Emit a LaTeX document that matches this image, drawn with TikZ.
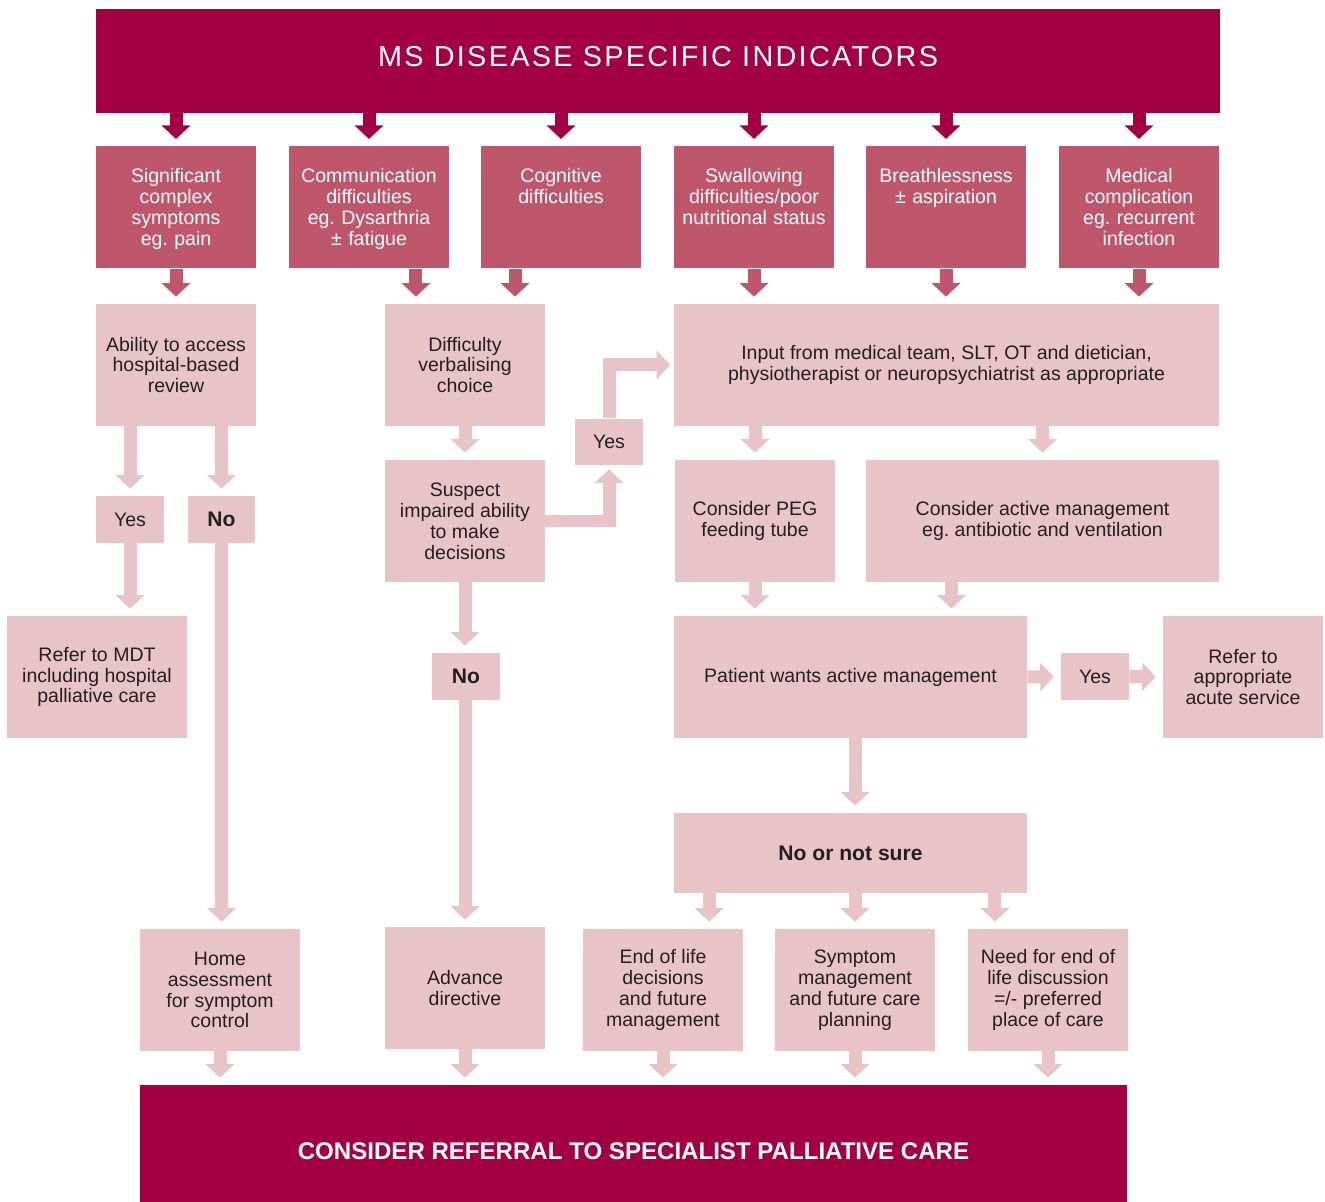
\documentclass[tikz,border=0pt]{standalone}
\usepackage{fontspec}
\setmainfont{Liberation Sans}
\newfontfamily\titlefont[LetterSpace=8]{Liberation Sans}
\frenchspacing
\usetikzlibrary{arrows.meta}
\definecolor{msdark}{RGB}{163,0,68}
\definecolor{msmid}{RGB}{190,86,108}
\definecolor{mslight}{RGB}{232,196,200}
\definecolor{mstext}{RGB}{35,31,32}
\tikzset{
	box/.style={inner sep=0pt, align=center, font=\fontsize{11.1}{11.9}\selectfont},
	darkbox/.style={box, fill=msdark, text=white, anchor=base},
	midbox/.style={box, fill=msmid, text=white, anchor=north,
		minimum width=3.2cm, minimum height=2.44cm,
		text width=3.2cm, text height=0.72cm, text depth=1.72cm},
	lightbox/.style={box, fill=mslight, text=mstext},
	stdbox/.style={lightbox, minimum width=3.2cm, minimum height=2.44cm},
	widebox/.style={lightbox, minimum width=7.06cm, minimum height=2.44cm},
	tagbox/.style={lightbox, minimum width=1.36cm, minimum height=0.94cm},
	boldtag/.style={tagbox, font=\bfseries\fontsize{12}{13}\selectfont},
	arr/.style={line width=0.26cm, -{Triangle[width=0.56cm,length=0.27cm]}, shorten >=0.14cm},
	darkarr/.style={arr, draw=msdark},
	midarr/.style={arr, draw=msmid},
	lightarr/.style={arr, draw=mslight},
	elbow/.style={lightarr, shorten >=0.07cm}
}
\begin{document}
\begin{tikzpicture}[x=0.02cm, y=-0.02cm]
	\useasboundingbox (0,0) rectangle (1325,1202);

	% header
	\node [darkbox, minimum width=22.48cm, text height=1.16cm, text depth=0.92cm,
		font=\titlefont\fontsize{16.4}{19}\selectfont] (title) at (658,67) {MS DISEASE SPECIFIC INDICATORS};

	% indicators
	\node [midbox] (sympt)  at (176,146)  {Significant\\complex\\symptoms\\eg. pain};
	\node [midbox] (comm)   at (369,146)  {Communication\\difficulties\\eg. Dysarthria\\± fatigue};
	\node [midbox] (cogn)   at (561,146)  {Cognitive\\difficulties};
	\node [midbox] (swall)  at (754,146)  {Swallowing\\difficulties/poor\\nutritional status};
	\node [midbox] (breath) at (946,146)  {Breathlessness\\± aspiration};
	\node [midbox] (medic)  at (1139,146) {Medical\\complication\\eg. recurrent\\infection};

	% second row
	\node [stdbox] (ability) at (176,365) {Ability to access\\hospital-based\\review};
	\node [stdbox] (diff)    at (465,365) {Difficulty\\verbalising\\choice};
	\node [lightbox, minimum width=10.9cm, minimum height=2.44cm] (input) at (946.5,365)
		{Input from medical team, SLT, OT and dietician,\\physiotherapist or neuropsychiatrist as appropriate};

	\node [tagbox]  (yes1) at (130,519.5)     {Yes};
	\node [boldtag] (no1)  at (221.5,519.5)   {No};
	\node [stdbox]  (suspect) at (465,521)    {Suspect\\impaired ability\\to make\\decisions};
	\node [tagbox]  (yes2) at (609,442)       {Yes};
	\node [stdbox]  (peg)  at (755,521)       {Consider PEG\\feeding tube};
	\node [lightbox, minimum width=7.06cm, minimum height=2.44cm] (active) at (1042.5,521)
		{Consider active management\\eg. antibiotic and ventilation};

	\node [lightbox, minimum width=3.6cm, minimum height=2.44cm] (refmdt) at (97,677)
		{Refer to MDT\\including hospital\\palliative care};
	\node [boldtag] (no2) at (466,676.5) {No};
	\node [widebox] (patient) at (850.5,677) {Patient wants active management};
	\node [tagbox]  (yes3) at (1095,676.5) {Yes};
	\node [stdbox]  (refacute) at (1243,677) {Refer to\\appropriate\\acute service};

	\node [lightbox, minimum width=7.06cm, minimum height=1.6cm,
		font=\bfseries\fontsize{12}{13}\selectfont] (nons) at (850.5,853) {No or not sure};

	% outcomes
	\node [stdbox] (home)    at (220,990)  {Home\\assessment\\for symptom\\control};
	\node [stdbox] (advance) at (465,988)  {Advance\\directive};
	\node [stdbox] (eol)     at (663,990)  {End of life\\decisions\\and future\\management};
	\node [stdbox] (symptom) at (855,990)  {Symptom\\management\\and future care\\planning};
	\node [stdbox] (need)    at (1048,990) {Need for end of\\life discussion\\=/- preferred\\place of care};

	\node [darkbox, minimum width=19.74cm, text height=1.48cm, text depth=0.86cm,
		font=\bfseries\fontsize{13.7}{16}\selectfont] (final) at (633.5,1159)
		{CONSIDER REFERRAL TO SPECIALIST PALLIATIVE CARE};

	% connectors
	\foreach \n in {sympt,comm,cogn,swall,breath,medic}
		\draw [darkarr] (title.south -| \n.north) -- (\n.north);

	\draw [midarr] (sympt.south) -- (ability.north);
	\draw [midarr] ([xshift=0.94cm]comm.south) -- ([xshift=0.94cm]comm.south |- diff.north);
	\draw [midarr] ([xshift=-0.92cm]cogn.south) -- ([xshift=-0.92cm]cogn.south |- diff.north);
	\foreach \n in {swall,breath,medic}
		\draw [midarr] (\n.south) -- (\n.south |- input.north);

	\draw [lightarr] (ability.south -| yes1.north) -- (yes1.north);
	\draw [lightarr] (ability.south -| no1.north) -- (no1.north);
	\draw [lightarr] (yes1.south) -- (yes1.south |- refmdt.north);
	\draw [lightarr] (no1.south) -- (no1.south |- home.north);

	\draw [lightarr] (diff.south) -- (suspect.north);
	\draw [elbow] (suspect.east) -| (yes2.south);
	\draw [elbow] (yes2.north) |- (input.west);
	\draw [lightarr] (suspect.south) -- (suspect.south |- no2.north);
	\draw [lightarr] (suspect.south |- no2.south) -- (suspect.south |- advance.north);

	\draw [lightarr] (input.south -| peg.north) -- (peg.north);
	\draw [lightarr] (input.south -| active.north) -- (active.north);
	\draw [lightarr] (peg.south) -- (peg.south |- patient.north);
	\draw [lightarr] ([xshift=-1.82cm]active.south) -- ([xshift=-1.82cm]active.south |- patient.north);
	\draw [lightarr] (patient.east) -- (yes3.west);
	\draw [lightarr] (yes3.east) -- (refacute.west);
	\draw [lightarr] ([xshift=0.09cm]patient.south) -- ([xshift=0.09cm]nons.north);
	\draw [lightarr] ([xshift=-2.83cm]nons.south) -- ([xshift=-2.83cm]nons.south |- eol.north);
	\draw [lightarr] ([xshift=0.09cm]nons.south) -- ([xshift=0.09cm]nons.south |- symptom.north);
	\draw [lightarr] ([xshift=2.89cm]nons.south) -- ([xshift=2.89cm]nons.south |- need.north);

	\foreach \n in {home,advance,eol,symptom,need}
		\draw [lightarr] (\n.south) -- (\n.south |- final.north);
\end{tikzpicture}
\end{document}
